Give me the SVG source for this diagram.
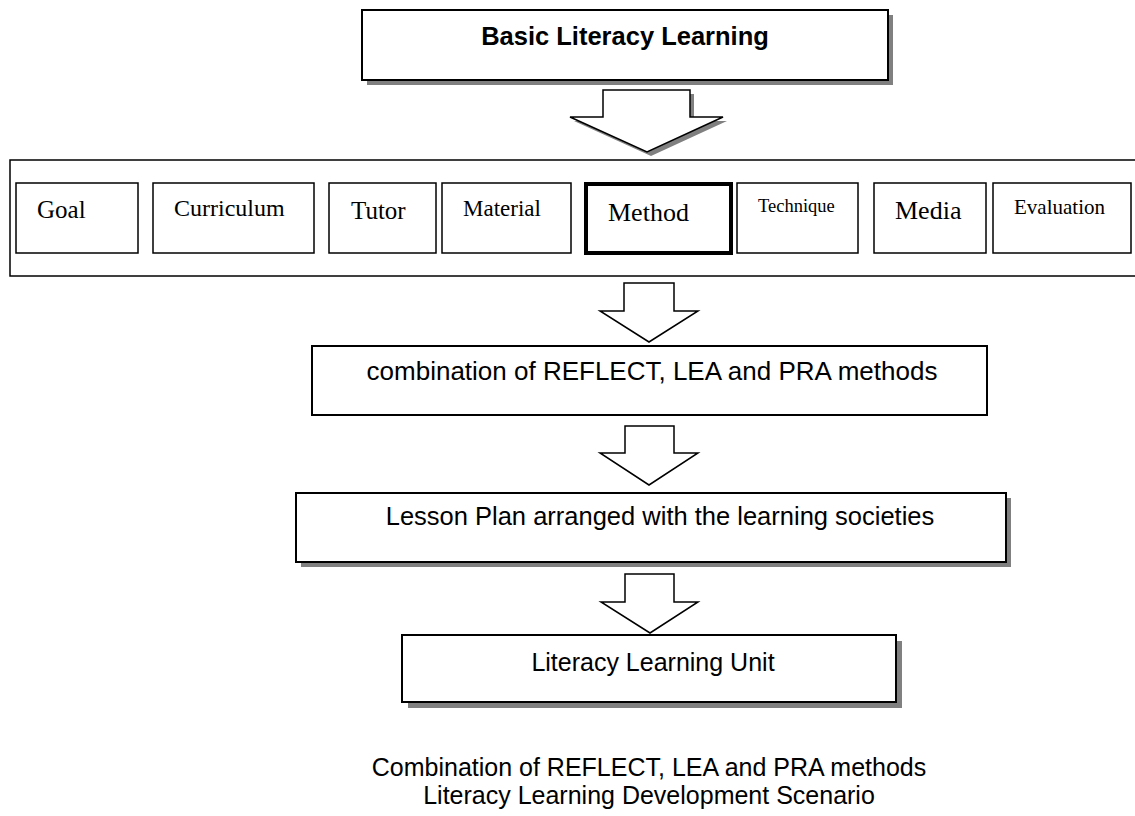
<svg xmlns="http://www.w3.org/2000/svg" width="1135" height="816" viewBox="0 0 1135 816">
<style>
.box{fill:#fff;stroke:#000;stroke-width:2}
.cell{fill:#fff;stroke:#000;stroke-width:1.5}
.shadow{fill:#808080;stroke:none}
.arrow{fill:#fff;stroke:#000;stroke-width:1.5;stroke-linejoin:miter}
.sans{font-family:"Liberation Sans",Arial,sans-serif;fill:#000}
.serif{font-family:"Liberation Serif","Times New Roman",serif;fill:#000}
</style>
<rect width="1135" height="816" fill="#fff"/>
<g id="basic-literacy-learning">
<rect class="shadow" x="367" y="15" width="526" height="70"/>
<rect class="box" x="362" y="10" width="526" height="70"/>
<text class="sans" x="625" y="45" font-size="25.5" font-weight="bold" text-anchor="middle">Basic Literacy Learning</text>
</g>
<g id="components">
<rect class="cell" x="10" y="160" width="1135" height="116"/>
<g id="goal"><rect class="cell" x="16" y="183" width="122" height="70"/><text class="serif" x="37" y="218" font-size="25">Goal</text></g>
<g id="curriculum"><rect class="cell" x="153" y="183" width="161" height="70"/><text class="serif" x="174" y="216" font-size="24">Curriculum</text></g>
<g id="tutor"><rect class="cell" x="329" y="183" width="107" height="70"/><text class="serif" x="351" y="219" font-size="25">Tutor</text></g>
<g id="material"><rect class="cell" x="442" y="183" width="129" height="70"/><text class="serif" x="463" y="216" font-size="23">Material</text></g>
<g id="method"><rect x="586" y="184" width="145" height="69" fill="#fff" stroke="#000" stroke-width="4"/><text class="serif" x="608" y="221" font-size="26">Method</text></g>
<g id="technique"><rect class="cell" x="737" y="183" width="121" height="70"/><text class="serif" x="758" y="212" font-size="18.5">Technique</text></g>
<g id="media"><rect class="cell" x="874" y="183" width="112" height="70"/><text class="serif" x="895" y="219" font-size="26">Media</text></g>
<g id="evaluation"><rect class="cell" x="993" y="183" width="138" height="70"/><text class="serif" x="1014" y="214" font-size="21">Evaluation</text></g>
</g>
<g id="combination">
<rect class="box" x="312" y="346" width="675" height="69"/>
<text class="sans" x="652" y="380" font-size="26" text-anchor="middle">combination of REFLECT, LEA and PRA methods</text>
</g>
<g id="lesson-plan">
<rect class="shadow" x="301" y="498" width="710" height="69"/>
<rect class="box" x="296" y="493" width="710" height="69"/>
<text class="sans" x="660" y="525" font-size="25.5" text-anchor="middle">Lesson Plan arranged with the learning societies</text>
</g>
<g id="literacy-learning-unit">
<rect class="shadow" x="408" y="641" width="494" height="67"/>
<rect class="box" x="402" y="635" width="494" height="67"/>
<text class="sans" x="653" y="671" font-size="25" text-anchor="middle">Literacy Learning Unit</text>
</g>
<g id="connectors">
<polygon class="shadow" points="607,94 694,94 694,121 727,121 651,156 574,121 607,121"/>
<polygon class="arrow" points="603,90 690,90 690,117 723,117 647,152 570,117 603,117"/>
<polygon class="arrow" points="624,283 674,283 674,311 698,311 649,342 600,311 624,311"/>
<polygon class="arrow" points="625,426 674,426 674,453 698,453 649,485 600,453 625,453"/>
<polygon class="arrow" points="625,574 674,574 674,602 698,602 650,633 601,602 625,602"/>
</g>
<g id="caption">
<text class="sans" x="649" y="776" font-size="25" text-anchor="middle">Combination of REFLECT, LEA and PRA methods</text>
<text class="sans" x="649" y="804" font-size="25" text-anchor="middle">Literacy Learning Development Scenario</text>
</g>
</svg>
